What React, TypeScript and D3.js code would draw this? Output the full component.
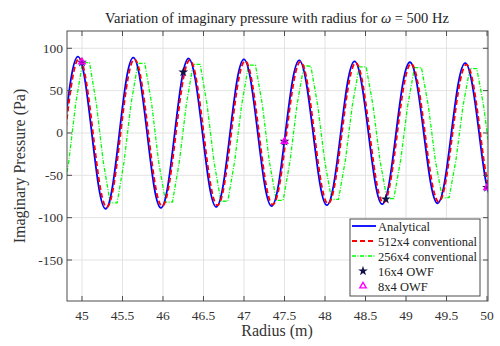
import React from "react";
import * as d3 from "d3";

// radius samples (m) for analytical / 512x4, and pressure values
const radiusFine = [
  44.779, 44.864, 44.95, 45.035, 45.121, 45.206, 45.291, 45.377, 45.462, 45.547,
  45.633, 45.718, 45.804, 45.889, 45.974, 46.06, 46.145, 46.23, 46.316, 46.401,
  46.487, 46.572, 46.657, 46.743, 46.828, 46.913, 46.999, 47.084, 47.17, 47.255,
  47.34, 47.426, 47.511, 47.597, 47.682, 47.767, 47.853, 47.938, 48.023, 48.109,
  48.194, 48.279, 48.365, 48.45, 48.536, 48.621, 48.706, 48.792, 48.877, 48.962,
  49.048, 49.133, 49.219, 49.304, 49.389, 49.475, 49.56, 49.645, 49.731, 49.816,
  49.902, 49.987, 50.072,
];
const analytical = [
  0, 63.8, 90.1, 63.6, 0, -63.4, -89.5, -63.2, 0, 63.0,
  89.0, 62.8, 0, -62.6, -88.4, -62.4, 0, 62.2, 87.9, 62.0,
  0, -61.9, -87.3, -61.6, 0, 61.5, 86.8, 61.3, 0, -61.1,
  -86.3, -60.9, 0, 60.7, 85.7, 60.5, 0, -60.3, -85.2, -60.1,
  0, 59.9, 84.6, 59.7, 0, -59.5, -84.1, -59.3, 0, 59.1,
  83.5, 58.9, 0, -58.8, -83.0, -58.6, 0, 58.4, 82.4, 58.2,
  0, -58.0, -81.9,
];
const conv512 = [
  -12.2, 53.3, 87.4, 70.3, 12.1, -53.0, -86.8, -69.9, -12.1, 52.6,
  86.3, 69.5, 12.0, -52.3, -85.7, -69.0, -11.9, 52.0, 85.2, 68.6,
  11.8, -51.7, -84.7, -68.2, -11.8, 51.4, 84.2, 67.8, 11.7, -51.1,
  -83.7, -67.4, -11.6, 50.7, 83.2, 67.0, 11.6, -50.4, -82.7, -66.5,
  -11.5, 50.1, 82.1, 66.1, 11.4, -49.7, -81.6, -65.6, -11.3, 49.4,
  81.0, 65.2, 11.2, -49.1, -80.5, -64.7, -11.2, 48.8, 80.0, 64.4,
  11.1, -48.5, -79.5,
];

// coarse mesh
const radiusCoarse = [
  44.751, 44.836, 44.922, 45.007, 45.093, 45.178, 45.263, 45.349, 45.434, 45.519,
  45.605, 45.69, 45.776, 45.861, 45.946, 46.032, 46.117, 46.202, 46.288, 46.373,
  46.459, 46.544, 46.629, 46.715, 46.8, 46.885, 46.971, 47.056, 47.142, 47.227,
  47.312, 47.398, 47.483, 47.569, 47.654, 47.739, 47.825, 47.91, 47.995, 48.081,
  48.166, 48.251, 48.337, 48.422, 48.508, 48.593, 48.678, 48.764, 48.849, 48.934,
  49.02, 49.105, 49.191, 49.276, 49.361, 49.447, 49.532, 49.617, 49.703, 49.788,
  49.874, 49.959, 50.044,
];
const conv256 = [
  -83.4, -34.5, 34.5, 83.2, 83.0, 34.4, -34.3, -82.6, -82.5, -34.2,
  34.1, 82.1, 82.1, 33.9, -33.9, -81.6, -81.5, -33.7, 33.7, 81.1,
  81.0, 33.5, -33.5, -80.7, -80.5, -33.3, 33.2, 80.1, 80.0, 33.1,
  -33.1, -79.6, -79.5, -32.9, 32.9, 79.1, 79.0, 32.7, -32.6, -78.6,
  -78.4, -32.5, 32.4, 78.1, 78.0, 32.3, -32.2, -77.6, -77.4, -32.1,
  32.0, 77.1, 77.0, 31.8, -31.8, -76.6, -76.4, -31.6, 31.6, 76.0,
  76.0, 31.4, -31.4,
];

const owf16Radius = [45, 46.25, 47.5, 48.75, 50];
const owf16 = [83.5, 71.8, -10, -78.2, -64.5];
const owf8Radius = [45, 47.5, 50];
const owf8 = [83.8, -10, -64.5];

const xTicks = [45, 45.5, 46, 46.5, 47, 47.5, 48, 48.5, 49, 49.5, 50];
const yTicks = [100, 50, 0, -50, -100, -150];

const W = 500, H = 346;
const left = 67, right = 488, top = 31, bottom = 301;
const axisColor = "#4d4d4d";
const font = "Liberation Serif";

export default function App() {
  const x = d3.scaleLinear().domain([44.815, 50.012]).range([left, right]);
  const y = d3.scaleLinear().domain([-198.4, 120.4]).range([bottom, top]);

  const smooth = d3.line<[number, number]>().x(d => x(d[0])).y(d => y(d[1])).curve(d3.curveNatural);
  const straight = d3.line<[number, number]>().x(d => x(d[0])).y(d => y(d[1]));

  const blueD = smooth(radiusFine.map((r, i) => [r, analytical[i]]));
  const redD = smooth(radiusFine.map((r, i) => [r, conv512[i]]));
  const greenD = straight(radiusCoarse.map((r, i) => [r, conv256[i]]));

  const star = d3.symbol(d3.symbolStar, 30)()!;
  const tri = d3.symbol(d3.symbolTriangle, 18)()!;

  const legendItems = [
    { label: "Analytical", kind: "line", color: "#0000ff", dash: "", w: 1.8 },
    { label: "512x4 conventional", kind: "line", color: "#ff0000", dash: "5,3", w: 1.8 },
    { label: "256x4 conventional", kind: "line", color: "#00ff00", dash: "4,1.5,1,1.5", w: 1.3 },
    { label: "16x4 OWF", kind: "star", color: "#10104a", dash: "", w: 1 },
    { label: "8x4 OWF", kind: "tri", color: "#ff00ff", dash: "", w: 1 },
  ];
  const lx = 350, ly = 219, lw = 130, lh = 77;

  return (
    <svg width={W} height={H} style={{ position: "absolute", left: 0, top: 0, background: "#fff" }}>
      <defs>
        <clipPath id="plotClip">
          <rect x={left} y={top} width={right - left} height={bottom - top} />
        </clipPath>
      </defs>
      <rect x={left} y={top} width={right - left} height={bottom - top} fill="#fff" />
      {/* grid */}
      {xTicks.map(t => (
        <line key={"gx" + t} x1={x(t)} x2={x(t)} y1={top} y2={bottom} stroke="#e3e3e3" strokeWidth={1} />
      ))}
      {yTicks.map(t => (
        <line key={"gy" + t} x1={left} x2={right} y1={y(t)} y2={y(t)} stroke="#e3e3e3" strokeWidth={1} />
      ))}
      {/* curves */}
      <g clipPath="url(#plotClip)">
        <path d={greenD!} fill="none" stroke="#00ff00" strokeWidth={1.3} strokeDasharray="4,1.5,1,1.5" />
        <path d={blueD!} fill="none" stroke="#0000ff" strokeWidth={1.8} />
        <path d={redD!} fill="none" stroke="#ff0000" strokeWidth={1.8} strokeDasharray="5,3" />
        {owf16Radius.map((r, i) => (
          <path key={"s" + i} d={star} transform={`translate(${x(r)},${y(owf16[i])})`} fill="#10104a" />
        ))}
        {owf8Radius.map((r, i) => (
          <path key={"t" + i} d={tri} transform={`translate(${x(r)},${y(owf8[i])})`} fill="#ff00ff" fillOpacity={0.5}
            stroke="#ff00ff" strokeWidth={1.4} />
        ))}
      </g>
      {/* axes box and ticks */}
      <rect x={left} y={top} width={right - left} height={bottom - top} fill="none" stroke={axisColor} strokeWidth={1} />
      {xTicks.map(t => (
        <g key={"tx" + t}>
          <line x1={x(t)} x2={x(t)} y1={bottom} y2={bottom - 5} stroke={axisColor} />
          <line x1={x(t)} x2={x(t)} y1={top} y2={top + 5} stroke={axisColor} />
          <text x={x(t)} y={320} textAnchor="middle" fontSize={13.5} fill="#333" fontFamily={font}>{t}</text>
        </g>
      ))}
      {yTicks.map(t => (
        <g key={"ty" + t}>
          <line x1={left} x2={left + 5} y1={y(t)} y2={y(t)} stroke={axisColor} />
          <line x1={right} x2={right - 5} y1={y(t)} y2={y(t)} stroke={axisColor} />
          <text x={63} y={y(t) + 4.5} textAnchor="end" fontSize={13.5} fill="#333" fontFamily={font}>{t}</text>
        </g>
      ))}
      {/* titles */}
      <text x={277} y={23} textAnchor="middle" fontSize={14.5} fill="#222" fontFamily={font}>
        Variation of imaginary pressure with radius for <tspan fontStyle="italic">ω</tspan> = 500 Hz
      </text>
      <text x={277} y={336} textAnchor="middle" fontSize={16} fill="#333" fontFamily={font}>Radius (m)</text>
      <text transform={`translate(25,${(top + bottom) / 2}) rotate(-90)`} textAnchor="middle" fontSize={16} fill="#333" fontFamily={font}>
        Imaginary Pressure (Pa)
      </text>
      {/* legend */}
      <rect x={lx} y={ly} width={lw} height={lh} fill="#fff" stroke={axisColor} strokeWidth={1} />
      {legendItems.map((it, i) => {
        const cy = ly + 7 + i * 15;
        return (
          <g key={it.label}>
            {it.kind === "line" && (
              <line x1={lx + 2} x2={lx + 26} y1={cy} y2={cy} stroke={it.color} strokeWidth={it.w}
                strokeDasharray={it.dash || undefined} />
            )}
            {it.kind === "star" && <path d={star} transform={`translate(${lx + 13},${cy})`} fill={it.color} />}
            {it.kind === "tri" && (
              <path d={tri} transform={`translate(${lx + 13},${cy})`} fill="none" stroke={it.color} strokeWidth={1.4} />
            )}
            <text x={lx + 28} y={cy + 4.5} fontSize={12.5} fill="#222" fontFamily={font}>{it.label}</text>
          </g>
        );
      })}
    </svg>
  );
}
